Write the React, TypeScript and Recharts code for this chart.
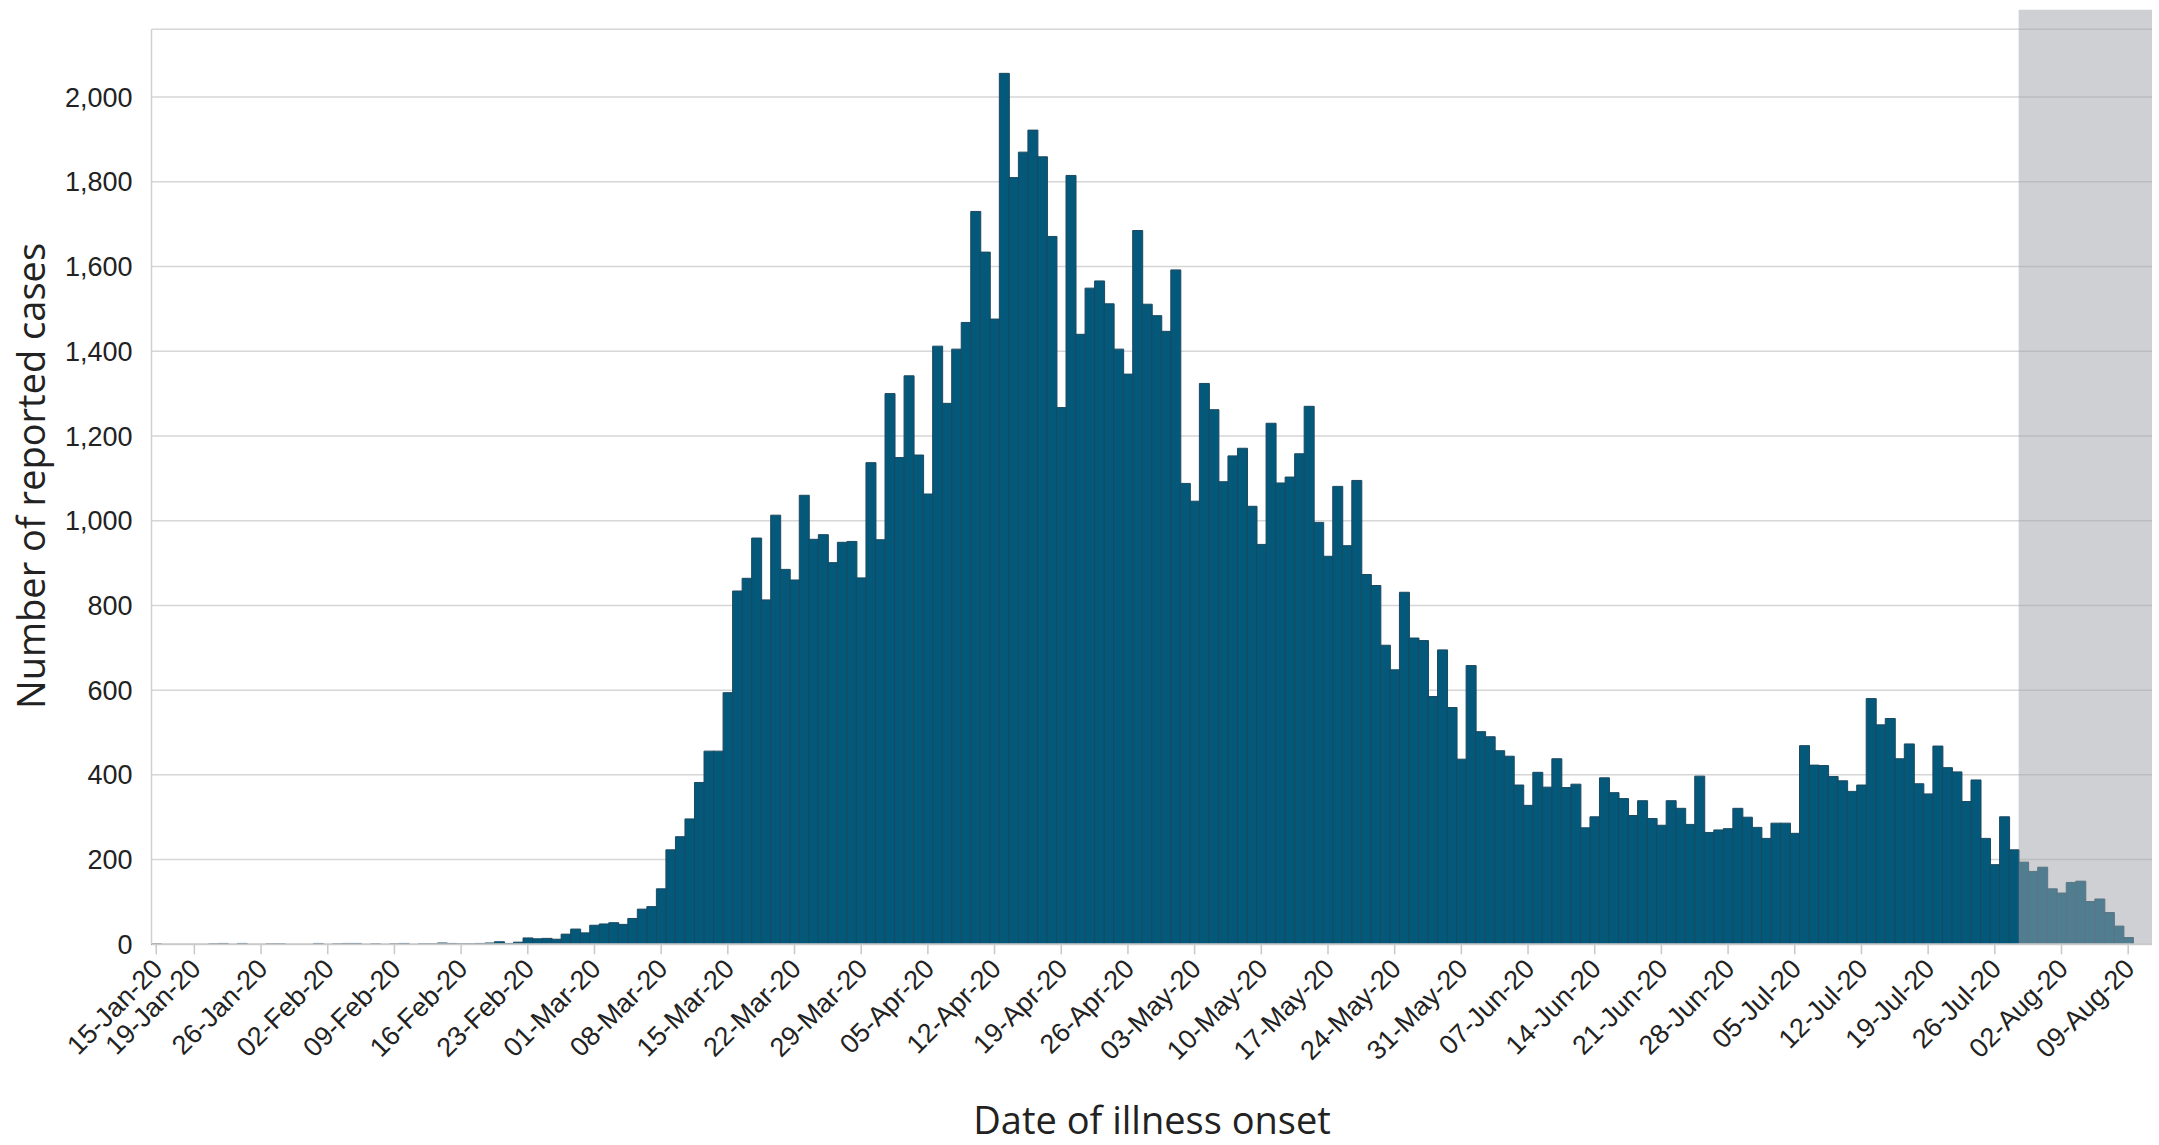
import React from "react";
import { BarChart, Bar, XAxis, YAxis, CartesianGrid, ReferenceArea } from "recharts";

// Daily reported cases by date of illness onset, 15-Jan-20 .. 11-Aug-20
const MONTHS = ["Jan", "Feb", "Mar", "Apr", "May", "Jun", "Jul", "Aug"];

const jan = [1, 0, 0, 0, 0, 0, 1, 2, 0, 2, 0, 0, 1, 1, 0, 0, 0]; // from 15-Jan
const feb = [2, 0, 1, 2, 2, 0, 1, 0, 1, 2, 0, 1, 1, 3, 2, 1, 1, 2, 3, 6, 2, 5, 15, 13, 14, 12, 24, 36, 27];
const mar = [45, 48, 51, 47, 61, 83, 89, 131, 223, 254, 296, 382, 456, 456, 594, 834, 864, 959, 813, 1013, 885, 860, 1060, 956, 967, 901, 949, 951, 865, 1137, 955];
const apr = [1300, 1149, 1342, 1155, 1063, 1412, 1277, 1405, 1468, 1730, 1634, 1476, 2056, 1810, 1870, 1922, 1859, 1671, 1267, 1815, 1440, 1549, 1566, 1512, 1405, 1346, 1685, 1511, 1484, 1447];
const may = [1592, 1088, 1046, 1324, 1262, 1092, 1153, 1171, 1034, 944, 1230, 1089, 1103, 1158, 1270, 996, 916, 1081, 941, 1095, 873, 847, 706, 648, 831, 723, 717, 585, 695, 559, 437];
const jun = [658, 502, 490, 457, 444, 376, 328, 406, 371, 438, 370, 378, 275, 301, 393, 358, 344, 304, 339, 297, 281, 339, 321, 283, 397, 264, 270, 273, 321, 300];
const jul = [276, 250, 286, 286, 262, 469, 423, 422, 396, 386, 361, 376, 580, 518, 533, 438, 473, 379, 355, 468, 417, 407, 337, 388, 250, 188, 301, 223, 194, 172, 182];
const aug = [131, 121, 146, 149, 101, 107, 75, 43, 16, 0, 0]; // to 11-Aug

const cases = [...jan, ...feb, ...mar, ...apr, ...may, ...jun, ...jul, ...aug];

const dayLabel = (i: number) => {
  const d = new Date(Date.UTC(2020, 0, 15 + i));
  return `${String(d.getUTCDate()).padStart(2, "0")}-${MONTHS[d.getUTCMonth()]}-20`;
};

const data = cases.map((v, i) => ({ day: dayLabel(i), cases: v }));

const X_TICKS = [
  "15-Jan-20", "19-Jan-20", "26-Jan-20", "02-Feb-20", "09-Feb-20", "16-Feb-20", "23-Feb-20",
  "01-Mar-20", "08-Mar-20", "15-Mar-20", "22-Mar-20", "29-Mar-20", "05-Apr-20", "12-Apr-20",
  "19-Apr-20", "26-Apr-20", "03-May-20", "10-May-20", "17-May-20", "24-May-20", "31-May-20",
  "07-Jun-20", "14-Jun-20", "21-Jun-20", "28-Jun-20", "05-Jul-20", "12-Jul-20", "19-Jul-20",
  "26-Jul-20", "02-Aug-20", "09-Aug-20",
];
const Y_TICKS = [0, 200, 400, 600, 800, 1000, 1200, 1400, 1600, 1800, 2000];

// provisional period (shaded grey)
const SHADE_FROM = "29-Jul-20";
const SHADE_TO = "11-Aug-20";

const TICK_FONT = "'Liberation Sans', Arial, sans-serif";
const TITLE_FONT = "'Open Sans', 'Noto Sans', sans-serif";

const DateTick = (props: any) => {
  const { x, y, payload } = props;
  const tx = x + 8;
  const ty = y + 16;
  return (
    <text
      x={tx}
      y={ty}
      transform={`rotate(-45 ${tx} ${ty})`}
      textAnchor="end"
      fontSize={27}
      fill="#222"
      fontFamily={TICK_FONT}
    >
      {payload.value}
    </text>
  );
};

const XTitle = () => (
  <text x={1152} y={1134} textAnchor="middle" fontSize={38} fill="#222" fontFamily={TITLE_FONT}>
    Date of illness onset
  </text>
);

const YTitle = () => (
  <text
    x={45}
    y={476}
    transform="rotate(-90 45 476)"
    textAnchor="middle"
    fontSize={38}
    fill="#222"
    fontFamily={TITLE_FONT}
  >
    Number of reported cases
  </text>
);

export default function App() {
  return (
    <div style={{ position: "absolute", left: 0, top: 0, background: "#fff" }}>
      <BarChart
        width={2159}
        height={1145}
        data={data}
        margin={{ top: 29.3, right: 7, bottom: 0, left: 0 }}
        barCategoryGap={0}
        barGap={0}
      >
        <CartesianGrid vertical={false} stroke="#d6d6d6" strokeWidth={1.5} />
        <XAxis
          dataKey="day"
          ticks={X_TICKS}
          interval={0}
          height={200.7}
          tickSize={10}
          tickMargin={0}
          tickLine={{ stroke: "#c8c8c8", strokeWidth: 1.5 }}
          axisLine={{ stroke: "#cbcbcb", strokeWidth: 2 }}
          tick={<DateTick />}
          label={<XTitle />}
        />
        <YAxis
          width={151.5}
          domain={[0, 2160]}
          ticks={Y_TICKS}
          interval={0}
          tickFormatter={(v: number) => v.toLocaleString("en-US")}
          tickLine={false}
          tickSize={0}
          tickMargin={19}
          axisLine={{ stroke: "#d0d0d0", strokeWidth: 1.5 }}
          tick={{ fontSize: 27, fill: "#222", fontFamily: TICK_FONT }}
          label={<YTitle />}
        />
        <Bar dataKey="cases" fill="#04587a" stroke="#1b4960" strokeWidth={1} isAnimationActive={false} />
        <ReferenceArea
          x1={SHADE_FROM}
          x2={SHADE_TO}
          y1={0}
          y2={2206}
          ifOverflow="visible"
          fill="#9ea2a8"
          fillOpacity={0.5}
          stroke="none"
          zIndex={350}
        />
      </BarChart>
    </div>
  );
}
